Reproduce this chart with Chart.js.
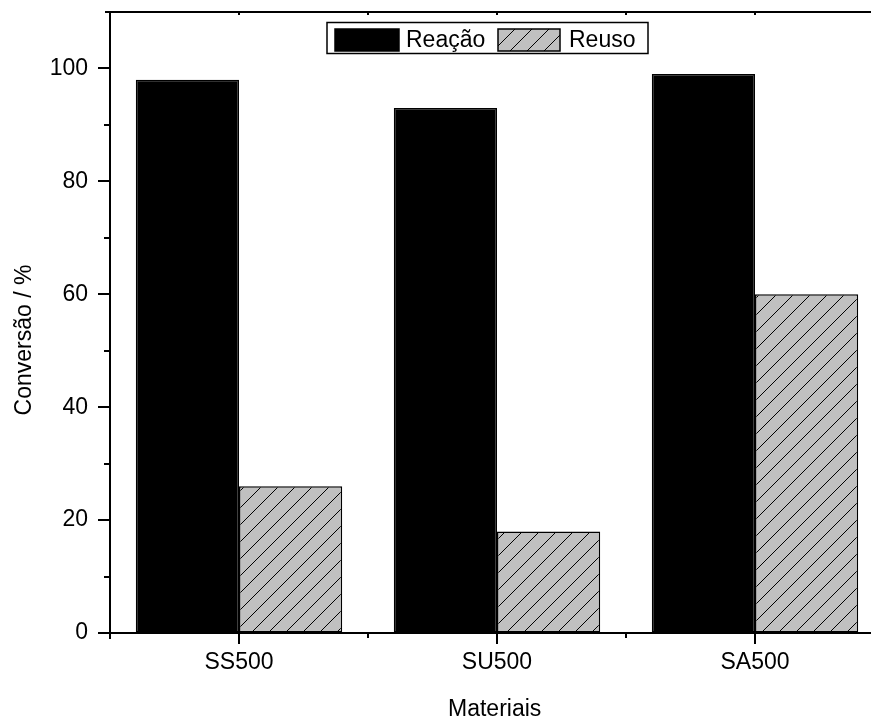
<!DOCTYPE html>
<html>
<head>
<meta charset="utf-8">
<title>Conversão por material</title>
<script src="https://cdn.jsdelivr.net/npm/chart.js@4/dist/chart.umd.min.js"></script>
<style>
  html, body { margin: 0; padding: 0; background: #fff; overflow: hidden; }
  #wrap { width: 900px; height: 718px; }
</style>
</head>
<body>
<div id="wrap"><canvas id="chart" width="900" height="718"></canvas></div>
<script>
// Materials and conversion values (%)
const categories = ['SS500', 'SU500', 'SA500'];
const reacao = [98, 93, 99];
const reuso = [26, 18, 60];
const seriesNames = ['Reação', 'Reuso'];
const yTickValues = [0, 20, 40, 60, 80, 100];
const yMinorStep = 10;
const yMax = 110;
const xTitle = 'Materiais';
const yTitle = 'Conversão / %';

const FONT = 'Arial, "Liberation Sans", sans-serif';
const FS = 23;

// Grey fill with thin "/" hatching
function makeHatch() {
  const s = 17;
  const c = document.createElement('canvas');
  c.width = s; c.height = s;
  const g = c.getContext('2d');
  g.fillStyle = '#c0c0c0';
  g.fillRect(0, 0, s, s);
  g.strokeStyle = '#000';
  g.lineWidth = 1;
  g.beginPath();
  g.moveTo(-2, s + 2); g.lineTo(s + 2, -2);
  g.moveTo(-2, 2); g.lineTo(2, -2);
  g.moveTo(s - 2, s + 2); g.lineTo(s + 2, s - 2);
  g.stroke();
  return g.createPattern(c, 'repeat');
}
const hatch = makeHatch();

function seg(ctx, x1, y1, x2, y2) {
  ctx.beginPath(); ctx.moveTo(x1, y1); ctx.lineTo(x2, y2); ctx.stroke();
}

// Frame, tick marks, axis titles and boxed legend
const framePlugin = {
  id: 'frame',
  afterDatasetsDraw(chart) {
    const { ctx, chartArea: a, scales: { x, y } } = chart;
    ctx.save();
    ctx.strokeStyle = '#000';
    ctx.lineWidth = 2;
    // axes + top border
    seg(ctx, a.left, a.top - 1, a.left, a.bottom + 6);
    seg(ctx, a.left - 5, a.bottom, a.right, a.bottom);
    seg(ctx, a.left - 5, a.top, a.right, a.top);
    seg(ctx, a.right, a.top, a.right, a.bottom);
    // y ticks (major outward, minor shorter)
    for (let v = 0; v <= yTickValues[yTickValues.length - 1]; v += yMinorStep) {
      const py = Math.round(y.getPixelForValue(v));
      const len = yTickValues.includes(v) ? 12 : 6;
      seg(ctx, a.left - len, py, a.left, py);
    }
    // x ticks at categories, minor between categories
    const n = categories.length;
    for (let i = 0; i < n; i++) {
      const px = Math.round(x.getPixelForTick(i));
      seg(ctx, px, a.bottom, px, a.bottom + 11);
      seg(ctx, px, a.top, px, a.top + 3);
      if (i < n - 1) {
        const pm = Math.round((x.getPixelForTick(i) + x.getPixelForTick(i + 1)) / 2);
        seg(ctx, pm, a.bottom, pm, a.bottom + 5);
        seg(ctx, pm, a.top, pm, a.top + 3);
      }
    }
    // axis titles
    ctx.fillStyle = '#000';
    ctx.font = FS + 'px ' + FONT;
    ctx.textAlign = 'left';
    ctx.textBaseline = 'alphabetic';
    ctx.fillText(xTitle, 448, 716);
    ctx.save();
    ctx.translate(31, 340);
    ctx.rotate(-Math.PI / 2);
    ctx.textAlign = 'center';
    ctx.fillText(yTitle, 0, 0);
    ctx.restore();

    // legend
    const ds = chart.data.datasets;
    ctx.fillStyle = '#fff';
    ctx.fillRect(327, 22.5, 321, 31);
    ctx.strokeStyle = '#000';
    ctx.lineWidth = 1.5;
    ctx.strokeRect(327, 22.5, 321, 31);
    const items = [
      { x: 335, w: 64, tx: 406 },
      { x: 498, w: 62, tx: 569 }
    ];
    items.forEach((it, i) => {
      ctx.fillStyle = ds[i].backgroundColor;
      ctx.fillRect(it.x, 29, it.w, 22);
      ctx.strokeStyle = '#000';
      ctx.lineWidth = 1.5;
      ctx.strokeRect(it.x, 29, it.w, 22);
      ctx.fillStyle = '#000';
      ctx.font = FS + 'px ' + FONT;
      ctx.textAlign = 'left';
      ctx.textBaseline = 'alphabetic';
      ctx.fillText(ds[i].label, it.tx, 47);
    });
    ctx.restore();
  }
};

new Chart(document.getElementById('chart'), {
  type: 'bar',
  data: {
    labels: categories,
    datasets: [
      {
        label: seriesNames[0],
        data: reacao,
        backgroundColor: '#000000',
        borderColor: '#000000',
        borderWidth: 1.5,
        borderSkipped: false,
        categoryPercentage: 0.8,
        barPercentage: 1.0
      },
      {
        label: seriesNames[1],
        data: reuso,
        backgroundColor: hatch,
        borderColor: '#000000',
        borderWidth: 1.5,
        borderSkipped: false,
        categoryPercentage: 0.8,
        barPercentage: 1.0
      }
    ]
  },
  options: {
    responsive: false,
    animation: false,
    devicePixelRatio: 1,
    layout: { padding: { top: 12, right: 16, bottom: 0, left: 0 } },
    plugins: {
      legend: { display: false },
      tooltip: { enabled: false }
    },
    scales: {
      x: {
        type: 'category',
        offset: true,
        grid: { display: true, drawOnChartArea: false, drawTicks: false },
        border: { display: false },
        ticks: {
          color: '#000',
          font: { family: FONT, size: FS },
          padding: 16,
          maxRotation: 0
        },
        afterFit(scale) {
          scale.height = 85;
          scale.paddingLeft = 0;
          scale.paddingRight = 0;
        }
      },
      y: {
        min: 0,
        max: yMax,
        grid: { display: true, drawOnChartArea: false, drawTicks: false },
        border: { display: false },
        ticks: {
          color: '#000',
          font: { family: FONT, size: FS },
          padding: 22
        },
        afterBuildTicks(scale) {
          scale.ticks = yTickValues.map(v => ({ value: v }));
        },
        afterFit(scale) {
          scale.width = 110;
          scale.paddingTop = 0;
          scale.paddingBottom = 0;
        }
      }
    }
  },
  plugins: [framePlugin]
});
</script>
</body>
</html>
